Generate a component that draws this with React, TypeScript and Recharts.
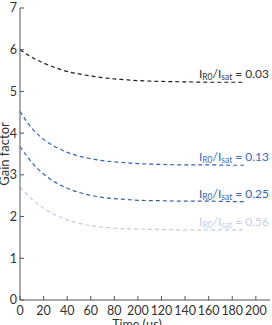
import React from "react";
import {
  LineChart,
  Line,
  XAxis,
  YAxis,
  ReferenceDot,
} from "recharts";

const times = [0, 10, 20, 30, 40, 50, 60, 70, 80, 90, 100, 120, 140, 160, 180, 190];
const gain003 = [6.0, 5.82, 5.68, 5.57, 5.48, 5.42, 5.37, 5.33, 5.3, 5.28, 5.26, 5.24, 5.23, 5.22, 5.22, 5.22];
const gain013 = [4.52, 4.12, 3.85, 3.67, 3.54, 3.45, 3.39, 3.34, 3.31, 3.29, 3.27, 3.25, 3.24, 3.24, 3.23, 3.23];
const gain025 = [3.68, 3.3, 3.02, 2.82, 2.68, 2.58, 2.51, 2.46, 2.43, 2.41, 2.39, 2.38, 2.37, 2.37, 2.36, 2.36];
const gain056 = [2.71, 2.42, 2.2, 2.04, 1.92, 1.84, 1.78, 1.75, 1.72, 1.71, 1.7, 1.69, 1.68, 1.68, 1.68, 1.68];

const xTicks = [0, 20, 40, 60, 80, 100, 120, 140, 160, 180, 200];
const xTickLabels = ["0", "20", "40", "60", "80", "200", "120", "140", "160", "180", "200"];
const yTicks = [0, 1, 2, 3, 4, 5, 6, 7];

const ratioLabels = ["0.03", "0.13", "0.25", "0.56"];

const series = [
  { key: "g003", values: gain003, color: "#1e1e1e", text: "#333333" },
  { key: "g013", values: gain013, color: "#3462b4", text: "#3a6cc0" },
  { key: "g025", values: gain025, color: "#3560a8", text: "#3763ad" },
  { key: "g056", values: gain056, color: "#c3cbe3", text: "#c6cde3" },
];

const data = times.map((t, i) => {
  const row: Record<string, number> = { t };
  series.forEach((s) => {
    row[s.key] = s.values[i];
  });
  return row;
});

const FONT = "Lato, 'Open Sans', sans-serif";
const AXIS = "#555555";

function RatioLabel({ viewBox, value, color }: any) {
  const x = viewBox.x + 25;
  const y = viewBox.y - 4;
  return (
    <text x={x} y={y} textAnchor="end" fontFamily={FONT} fontSize={12} fill={color}>
      I
      <tspan fontSize={8.5} dy={2}>R0</tspan>
      <tspan dy={-2}>/I</tspan>
      <tspan fontSize={8.5} dy={2}>sat</tspan>
      <tspan dy={-2}> = {value}</tspan>
    </text>
  );
}

export default function App() {
  const last = times.length - 1;
  return (
    <div style={{ position: "absolute", left: 0, top: 0, background: "#fff" }}>
      <LineChart
        width={272}
        height={325}
        data={data}
        margin={{ top: 8, right: 2, left: 0, bottom: 0 }}
      >
        <XAxis
          dataKey="t"
          type="number"
          domain={[0, 212]}
          ticks={xTicks}
          interval={0}
          tickFormatter={(v) => xTickLabels[xTicks.indexOf(v)] ?? String(v)}
          height={25}
          stroke={AXIS}
          tickSize={-4}
          tickMargin={10}
          tick={{ fill: "#333", fontSize: 12.5, fontFamily: FONT }}
          label={{
            value: "Time (μs)",
            position: "insideBottom",
            offset: -4,
            dx: -8,
            fill: "#333",
            fontSize: 12.5,
            fontFamily: FONT,
          }}
        />
        <XAxis
          xAxisId="top"
          orientation="top"
          type="number"
          domain={[0, 212]}
          ticks={xTicks}
          interval={0}
          height={0}
          stroke={AXIS}
          tickSize={-4}
          tick={{ fill: "none", fontSize: 1 }}
        />
        <YAxis
          type="number"
          domain={[0, 7]}
          ticks={yTicks}
          interval={0}
          width={20}
          stroke={AXIS}
          tickSize={-4}
          tickMargin={7}
          tick={{ fill: "#333", fontSize: 12.5, fontFamily: FONT }}
          label={{
            content: ({ viewBox }: any) => (
              <text
                x={4}
                y={viewBox.y + viewBox.height / 2}
                transform={`rotate(-90 4 ${viewBox.y + viewBox.height / 2})`}
                textAnchor="middle"
                dominantBaseline="central"
                fontFamily={FONT}
                fontSize={13}
                fill="#333"
              >
                Gain factor
              </text>
            ),
          }}
        />
        <YAxis
          yAxisId="right"
          orientation="right"
          type="number"
          domain={[0, 7]}
          ticks={yTicks}
          interval={0}
          width={0}
          stroke={AXIS}
          tickSize={-4}
          tick={{ fill: "none", fontSize: 1 }}
        />
        {series.map((s) => (
          <Line
            key={s.key}
            dataKey={s.key}
            type="monotone"
            stroke={s.color}
            strokeWidth={1.2}
            strokeDasharray="4 3"
            dot={false}
            isAnimationActive={false}
          />
        ))}
        {series.map((s, i) => (
          <ReferenceDot
            key={s.key + "-label"}
            x={times[last]}
            y={s.values[last]}
            r={0}
            fill="none"
            stroke="none"
            label={<RatioLabel value={ratioLabels[i]} color={s.text} />}
          />
        ))}
      </LineChart>
    </div>
  );
}
